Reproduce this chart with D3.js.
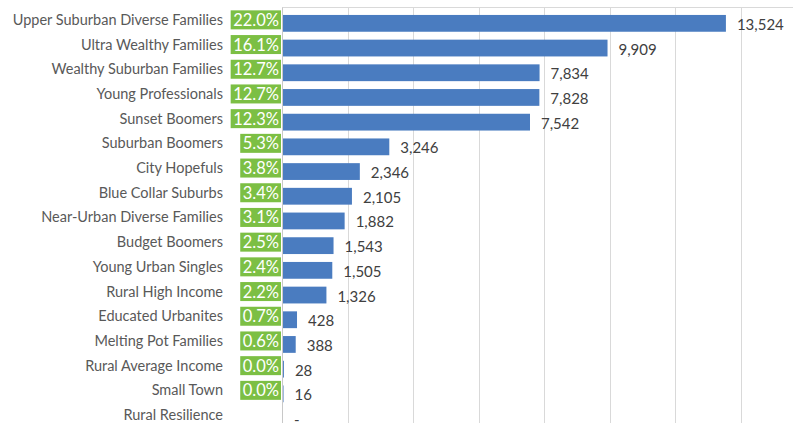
<!DOCTYPE html>
<html>
<head>
<meta charset="utf-8">
<script src="https://cdn.jsdelivr.net/npm/d3@7/dist/d3.min.js"></script>
<style>
  html, body { margin: 0; padding: 0; background: #ffffff; }
  svg { display: block; }
  text { font-family: Lato, "Open Sans", sans-serif; }
</style>
</head>
<body>
<svg id="chart" width="793" height="423"></svg>
<script>
// Segment names, top to bottom
const segments = [
  "Upper Suburban Diverse Families",
  "Ultra Wealthy Families",
  "Wealthy Suburban Families",
  "Young Professionals",
  "Sunset Boomers",
  "Suburban Boomers",
  "City Hopefuls",
  "Blue Collar Suburbs",
  "Near-Urban Diverse Families",
  "Budget Boomers",
  "Young Urban Singles",
  "Rural High Income",
  "Educated Urbanites",
  "Melting Pot Families",
  "Rural Average Income",
  "Small Town",
  "Rural Resilience"
];

// Household counts per segment
const counts = [13524, 9909, 7834, 7828, 7542, 3246, 2346, 2105, 1882, 1543, 1505, 1326, 428, 388, 28, 16, 0];

// Share of total shown in the green tags (blank where no share is shown)
const shareLabels = ["22.0%", "16.1%", "12.7%", "12.7%", "12.3%", "5.3%", "3.8%", "3.4%", "3.1%", "2.5%", "2.4%", "2.2%", "0.7%", "0.6%", "0.0%", "0.0%", ""];

// Value axis gridline positions
const gridTicks = [0, 2000, 4000, 6000, 8000, 10000, 12000, 14000];

const svg = d3.select("#chart");

const x = d3.scaleLinear().domain([0, 16000]).range([282, 806]);
const y = d3.scaleBand()
  .domain(segments)
  .range([11, 11 + segments.length * 24.7])
  .paddingInner(0.32)
  .paddingOuter(0.16);

// Top border of plot area
svg.append("line")
  .attr("x1", x(0)).attr("x2", 793)
  .attr("y1", 7.5).attr("y2", 7.5)
  .attr("stroke", "#d9d9d9").attr("stroke-width", 1);

// Vertical gridlines
svg.append("g")
  .selectAll("line")
  .data(gridTicks)
  .join("line")
  .attr("x1", d => Math.round(x(d)) + 0.5)
  .attr("x2", d => Math.round(x(d)) + 0.5)
  .attr("y1", 7.5)
  .attr("y2", 423)
  .attr("stroke", d => d === 0 ? "#c8c8c8" : "#d9d9d9")
  .attr("stroke-width", 1);

// Bars
svg.append("g")
  .selectAll("rect")
  .data(counts)
  .join("rect")
  .attr("x", x(0) + 1)
  .attr("y", (d, i) => y(segments[i]))
  .attr("width", d => Math.max(0, x(d) - x(0)))
  .attr("height", y.bandwidth())
  .attr("fill", "#4a7cc0");

// Value labels
const fmt = d3.format(",");
svg.append("g")
  .selectAll("text")
  .data(counts)
  .join("text")
  .attr("x", d => x(d) + 12)
  .attr("y", (d, i) => y(segments[i]) + y.bandwidth() / 2 + 6.5)
  .attr("font-size", 15)
  .attr("fill", "#404040")
  .text(d => d === 0 ? "-" : fmt(d));

// Segment names
svg.append("g")
  .selectAll("text")
  .data(segments)
  .join("text")
  .attr("x", 223)
  .attr("y", d => y(d) + y.bandwidth() / 2 + 1.5)
  .attr("text-anchor", "end")
  .attr("font-size", 14.5)
  .attr("fill", "#595959")
  .text(d => d);

// Green share tags
const tags = svg.append("g")
  .selectAll("g")
  .data(shareLabels)
  .join("g")
  .filter(d => d !== "");

tags.each(function (d, i) {
  const g = d3.select(this);
  const idx = shareLabels.indexOf(d) >= 0 ? i : i;
  const cy = y(segments[i]) + y.bandwidth() / 2 - 3.5;
  const t = g.append("text")
    .attr("x", 279)
    .attr("y", cy + 6)
    .attr("text-anchor", "end")
    .attr("font-size", 16.5)
    .attr("fill", "#ffffff")
    .text(d);
  const w = t.node().getComputedTextLength();
  g.insert("rect", "text")
    .attr("x", 279 - w - 2.5)
    .attr("y", cy - 9.5)
    .attr("width", w + 4.5)
    .attr("height", 19)
    .attr("fill", "#7cbf44");
});
</script>
</body>
</html>
